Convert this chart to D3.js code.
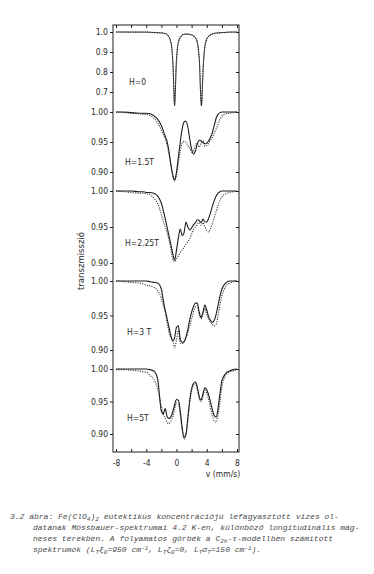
<!DOCTYPE html>
<html>
<head>
<meta charset="utf-8">
<script src="https://cdn.jsdelivr.net/npm/d3@7/dist/d3.min.js"></script>
<style>
  body { margin: 0; background: #fff; }
  svg { display: block; }
  .tick text, .lbl { font-family: "DejaVu Sans Condensed", "Liberation Sans", sans-serif; font-size: 8.5px; fill: #2a2a2a; }
  .cap { font-family: "Liberation Mono", "DejaVu Sans Mono", monospace; font-style: italic; font-size: 8px; fill: #4a4a4a; }
</style>
</head>
<body>
<svg id="chart" width="374" height="574"></svg>
<script>
/* data */
// H = 0 : quadrupole doublet
const vH0 = [-8, -6, -4, -3, -2, -1.5, -1.1, -0.8, -0.6, -0.45, -0.35, -0.25, -0.15, -0.05, 0.1, 0.3, 0.6, 1.0, 1.5, 2.0,
  2.4, 2.7, 2.9, 3.05, 3.15, 3.3, 3.45, 3.55, 3.7, 3.9, 4.2, 4.6, 5.2, 6, 7, 8];
const calcH0 = [1.0, 1.0, 0.999, 0.998, 0.995, 0.993, 0.98, 0.958, 0.91, 0.82, 0.71, 0.63, 0.71, 0.82, 0.91, 0.955, 0.978, 0.988, 0.99, 0.985,
  0.976, 0.955, 0.91, 0.84, 0.73, 0.63, 0.75, 0.84, 0.91, 0.955, 0.976, 0.988, 0.994, 0.997, 0.999, 1.0];
const expH0 = [1.0, 0.999, 1.0, 0.997, 0.996, 0.992, 0.981, 0.956, 0.912, 0.818, 0.712, 0.635, 0.708, 0.823, 0.908, 0.957, 0.977, 0.99, 0.989, 0.986,
  0.975, 0.957, 0.908, 0.842, 0.728, 0.635, 0.752, 0.838, 0.912, 0.953, 0.977, 0.987, 0.995, 0.996, 1.0, 0.999];

// common velocity grid for the field spectra (mm/s)
const vGrid = [-8, -7, -6, -5, -4.5, -4, -3.5, -3, -2.5, -2, -1.75, -1.5, -1.25, -1, -0.75, -0.5, -0.25, 0,
  0.25, 0.5, 0.75, 1, 1.25, 1.5, 1.75, 2, 2.25, 2.5, 2.75, 3, 3.25, 3.5, 3.75, 4,
  4.25, 4.5, 4.75, 5, 5.25, 5.5, 5.75, 6, 6.5, 7, 7.5, 8];

// H = 1.5 T
const calc15 = [1.0, 1.0, 0.999, 0.998, 0.998, 0.998, 0.997, 0.994, 0.988, 0.977, 0.969, 0.96, 0.951, 0.935, 0.913, 0.895, 0.887, 0.9,
  0.925, 0.95, 0.972, 0.983, 0.985, 0.975, 0.955, 0.938, 0.93, 0.935, 0.947, 0.953, 0.952, 0.949, 0.947, 0.948,
  0.952, 0.958, 0.966, 0.978, 0.99, 0.996, 0.999, 1.0, 1.0, 1.0, 1.0, 1.0];
const exp15 = [1.0, 0.999, 0.998, 0.997, 0.996, 0.996, 0.994, 0.99, 0.982, 0.97, 0.963, 0.955, 0.945, 0.93, 0.912, 0.895, 0.885, 0.895,
  0.915, 0.935, 0.948, 0.951, 0.95, 0.944, 0.94, 0.933, 0.935, 0.945, 0.948, 0.941, 0.948, 0.952, 0.943, 0.944,
  0.948, 0.953, 0.958, 0.965, 0.972, 0.98, 0.988, 0.993, 0.997, 0.998, 0.999, 1.0];

// H = 2.25 T
const calc225 = [1.0, 1.0, 1.0, 0.999, 0.999, 0.998, 0.998, 0.997, 0.993, 0.983, 0.973, 0.962, 0.95, 0.938, 0.926, 0.913, 0.904, 0.918,
  0.935, 0.947, 0.938, 0.942, 0.957, 0.95, 0.946, 0.949, 0.953, 0.956, 0.96, 0.959, 0.956, 0.961, 0.957, 0.957,
  0.962, 0.97, 0.979, 0.987, 0.993, 0.997, 0.999, 1.0, 1.0, 1.0, 1.0, 1.0];
const exp225 = [1.0, 0.999, 0.998, 0.997, 0.997, 0.996, 0.995, 0.99, 0.983, 0.967, 0.958, 0.95, 0.942, 0.932, 0.92, 0.905, 0.902, 0.906,
  0.91, 0.915, 0.918, 0.922, 0.926, 0.93, 0.934, 0.94, 0.946, 0.95, 0.954, 0.956, 0.952, 0.956, 0.95, 0.945,
  0.943, 0.948, 0.955, 0.963, 0.972, 0.98, 0.987, 0.992, 0.996, 0.998, 0.999, 1.0];

// H = 3 T
const calc3 = [1.0, 1.0, 1.0, 1.0, 1.0, 1.0, 0.999, 0.998, 0.997, 0.988, 0.972, 0.958, 0.946, 0.933, 0.921, 0.913, 0.918, 0.933,
  0.935, 0.915, 0.911, 0.912, 0.919, 0.93, 0.944, 0.955, 0.963, 0.968, 0.968, 0.955, 0.947, 0.955, 0.965, 0.958,
  0.948, 0.943, 0.94, 0.943, 0.952, 0.965, 0.978, 0.988, 0.997, 1.0, 1.0, 1.0];
const exp3 = [1.0, 0.999, 0.998, 0.997, 0.996, 0.994, 0.993, 0.991, 0.986, 0.975, 0.965, 0.955, 0.94, 0.926, 0.918, 0.914, 0.903, 0.915,
  0.93, 0.91, 0.909, 0.912, 0.917, 0.925, 0.935, 0.945, 0.955, 0.962, 0.964, 0.952, 0.945, 0.952, 0.96, 0.952,
  0.945, 0.94, 0.937, 0.935, 0.937, 0.95, 0.966, 0.978, 0.992, 0.997, 0.999, 1.0];

// H = 5 T
const calc5 = [1.0, 1.0, 1.0, 1.0, 1.0, 1.0, 0.999, 0.997, 0.985, 0.935, 0.931, 0.939, 0.927, 0.924, 0.926, 0.934, 0.945, 0.953,
  0.952, 0.935, 0.91, 0.895, 0.9, 0.925, 0.952, 0.97, 0.978, 0.98, 0.972, 0.958, 0.952, 0.962, 0.971, 0.968,
  0.96, 0.949, 0.937, 0.928, 0.926, 0.94, 0.962, 0.982, 0.993, 0.997, 0.999, 1.0];
const exp5 = [0.999, 0.999, 0.998, 0.997, 0.996, 0.995, 0.99, 0.984, 0.97, 0.943, 0.93, 0.925, 0.918, 0.916, 0.92, 0.926, 0.938, 0.948,
  0.946, 0.93, 0.905, 0.892, 0.898, 0.92, 0.948, 0.966, 0.975, 0.978, 0.968, 0.955, 0.95, 0.958, 0.967, 0.963,
  0.952, 0.94, 0.928, 0.92, 0.918, 0.93, 0.95, 0.972, 0.99, 0.995, 0.997, 0.999];

const fieldLabels = ["H=0", "H=1.5T", "H=2.25T", "H=3 T", "H=5T"];
const ticksH0 = [1.0, 0.9, 0.8, 0.7];
const ticksH = [1.0, 0.95, 0.9];
const xTicks = [-8, -4, 0, 4, 8];
const xMinor = [-8, -6, -4, -2, 0, 2, 4, 6, 8];
const yTitle = "transzmisszió";
const xTitle = "v (mm/s)";

/* layout */
const frame = { left: 113, right: 239, top: 25, bottom: 452 };

let panels = [
  { v: vH0, calc: calcH0, exp: expH0, ticks: ticksH0, fmt: ".1f", dom: [0.7, 1.0], rng: [92, 32], lx: 129, ly: 85 },
  { v: vGrid, calc: calc15, exp: exp15, ticks: ticksH, fmt: ".2f", dom: [0.9, 1.0], rng: [172, 112], lx: 125, ly: 165 },
  { v: vGrid, calc: calc225, exp: exp225, ticks: ticksH, fmt: ".2f", dom: [0.9, 1.0], rng: [263, 191], lx: 125, ly: 246 },
  { v: vGrid, calc: calc3, exp: exp3, ticks: ticksH, fmt: ".2f", dom: [0.9, 1.0], rng: [350, 281], lx: 127, ly: 335 },
  { v: vGrid, calc: calc5, exp: exp5, ticks: ticksH, fmt: ".2f", dom: [0.9, 1.0], rng: [434, 369], lx: 127, ly: 421 }
];

const ink = "#1e1e1e";
let svg = d3.select("#chart");

let x = d3.scaleLinear().domain([-8, 8]).range([116, 237]);

// frame
svg.append("rect")
  .attr("x", frame.left)
  .attr("y", frame.top)
  .attr("width", frame.right - frame.left)
  .attr("height", frame.bottom - frame.top)
  .attr("fill", "none")
  .attr("stroke", ink)
  .attr("stroke-width", 1);

// top and bottom axes
let axTop = svg.append("g")
  .attr("transform", "translate(0," + frame.top + ")")
  .call(d3.axisTop(x).tickValues(xMinor).tickSize(-3).tickFormat(""));
axTop.select(".domain").remove();

let axBottom = svg.append("g")
  .attr("transform", "translate(0," + frame.bottom + ")")
  .call(d3.axisBottom(x).tickValues(xMinor).tickSize(-3).tickPadding(8)
    .tickFormat(d => xTicks.indexOf(d) >= 0 ? d3.format("d")(d).replace("−", "-") : ""));
axBottom.select(".domain").remove();

svg.selectAll(".tick line").attr("stroke", ink);

// panels
panels.forEach((p, i) => {
  let y = d3.scaleLinear().domain(p.dom).range(p.rng);

  let axLeft = svg.append("g")
    .attr("transform", "translate(" + frame.left + ",0)")
    .call(d3.axisLeft(y).tickValues(p.ticks).tickSize(3).tickPadding(2).tickFormat(d3.format(p.fmt)));
  axLeft.select(".domain").remove();
  axLeft.selectAll("line").attr("stroke", ink);

  let axRight = svg.append("g")
    .attr("transform", "translate(" + frame.right + ",0)")
    .call(d3.axisRight(y).tickValues(p.ticks).tickSize(-3).tickFormat(""));
  axRight.select(".domain").remove();
  axRight.selectAll("line").attr("stroke", ink);

  let line = d3.line()
    .x((d, j) => x(p.v[j]))
    .y(d => y(d))
    .curve(d3.curveMonotoneX);

  // measured points (dotted)
  svg.append("path")
    .datum(p.exp)
    .attr("d", line)
    .attr("fill", "none")
    .attr("stroke", "#333")
    .attr("stroke-width", 1.1)
    .attr("stroke-dasharray", "1.1,1.3");

  // calculated curve
  svg.append("path")
    .datum(p.calc)
    .attr("d", line)
    .attr("fill", "none")
    .attr("stroke", ink)
    .attr("stroke-width", i == 0 ? 0.8 : 1.1);

  svg.append("text")
    .attr("class", "lbl")
    .attr("x", p.lx)
    .attr("y", p.ly)
    .text(fieldLabels[i]);
});

// axis titles
svg.append("text")
  .attr("class", "lbl")
  .attr("transform", "translate(84,261) rotate(-90)")
  .attr("text-anchor", "middle")
  .style("font-size", "9.5px")
  .text(yTitle);

svg.append("text")
  .attr("class", "lbl")
  .attr("x", 223)
  .attr("y", 477)
  .attr("text-anchor", "middle")
  .text(xTitle);

/* caption */
const capLines = [
  [["3.2 ábra: Fe(ClO", ""], ["4", "sub"], [")", ""], ["2", "sub"], [" eutektikus koncentrációjú lefagyasztott vizes ol-", ""]],
  [["datának Mössbauer-spektrumai 4.2 K-en, különböző longitudinális mág-", ""]],
  [["neses terekben. A folyamatos görbék a C", ""], ["2h", "sub"], ["-τ-modellben számított", ""]],
  [["spektrumok (L", ""], ["T", "sub"], ["ξ", ""], ["0", "sub"], ["=950 cm", ""], ["-1", "sup"], [", L", ""], ["T", "sub"],
   ["ζ", ""], ["0", "sub"], ["=0, L", ""], ["T", "sub"], ["σ", ""], ["T", "sub"], ["=150 cm", ""], ["-1", "sup"], [").", ""]]
];
const capX = [10, 33, 33, 33];
const capY = [519, 530, 541, 552];

capLines.forEach((parts, i) => {
  let t = svg.append("text")
    .attr("class", "cap")
    .attr("x", capX[i])
    .attr("y", capY[i]);
  parts.forEach(([s, k]) => {
    let ts = t.append("tspan").text(s);
    if (k == "sub") ts.attr("baseline-shift", "-25%").style("font-size", "6px");
    if (k == "sup") ts.attr("baseline-shift", "40%").style("font-size", "6px");
  });
});
</script>
</body>
</html>
